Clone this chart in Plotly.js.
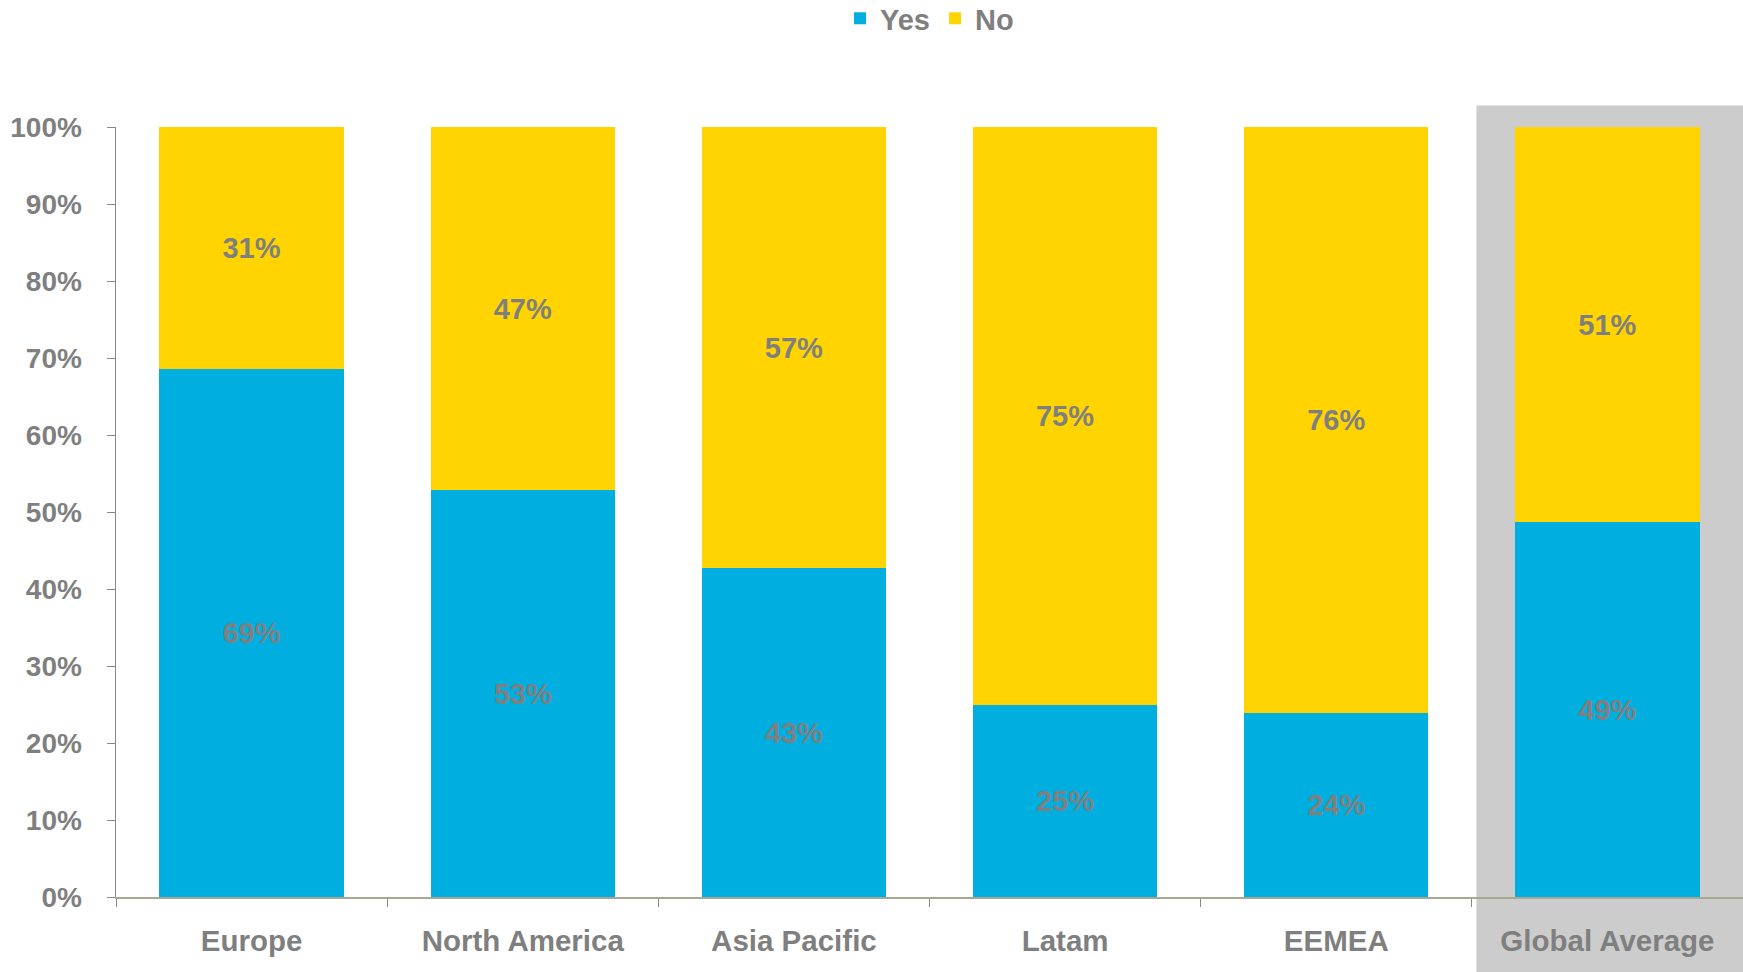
<!DOCTYPE html>
<html>
<head>
<meta charset="utf-8">
<script src="https://cdn.plot.ly/plotly-3.0.1.min.js"></script>
<style>html,body{margin:0;padding:0;background:#fff;}#chart{width:1743px;height:972px;}</style>
</head>
<body>
<div id="chart"></div>
<script>
const categories = ["Europe", "North America", "Asia Pacific", "Latam", "EEMEA", "Global Average"];
const yesValues = [68.6, 52.8, 42.7, 24.9, 23.9, 48.7];
const noValues = [31.4, 47.2, 57.3, 75.1, 76.1, 51.3];

const FONT = "Liberation Sans, Arial, sans-serif";
const GREY = "#7f7f7f";

const traces = [
  {
    type: "bar", name: "Yes", x: categories, y: yesValues,
    marker: {color: "#00AEE0"},
    texttemplate: "%{y:.0f}%", textposition: "inside", insidetextanchor: "middle",
    textfont: {family: FONT, size: 29, color: GREY, weight: "bold"},
    hoverinfo: "x+y"
  },
  {
    type: "bar", name: "No", x: categories, y: noValues,
    marker: {color: "#FFD400"},
    texttemplate: "%{y:.0f}%", textposition: "inside", insidetextanchor: "middle",
    textfont: {family: FONT, size: 29, color: GREY, weight: "bold"},
    hoverinfo: "x+y"
  }
];

const layout = {
  width: 1743, height: 972,
  margin: {l: 116, r: 0, t: 127, b: 75, autoexpand: false},
  barmode: "stack",
  bargap: 0.32,
  paper_bgcolor: "#ffffff",
  plot_bgcolor: "rgba(0,0,0,0)",
  font: {family: FONT, color: GREY, size: 28, weight: "bold"},
  showlegend: true,
  legend: {
    orientation: "h", x: 0.5, xanchor: "center", y: 1.141, yanchor: "middle",
    font: {family: FONT, size: 29, color: GREY, weight: "bold"},
    traceorder: "normal", itemwidth: 30
  },
  xaxis: {
    type: "category",
    range: [-0.5, 5.5],
    showline: true, linecolor: "#a8a890", linewidth: 1.5,
    ticks: "outside", tickson: "boundaries", ticklen: 8, tickcolor: "#888888",
    tickfont: {family: FONT, size: 29.5, color: GREY, weight: "bold"},
    ticklabelstandoff: 17,
    showgrid: false, zeroline: false
  },
  yaxis: {
    range: [0, 100], dtick: 10, ticksuffix: "%",
    showline: true, linecolor: "#888888", linewidth: 1.5,
    ticks: "outside", ticklen: 8, tickcolor: "#888888",
    tickfont: {family: FONT, size: 28, color: GREY, weight: "bold"},
    ticklabelstandoff: 19,
    showgrid: false, zeroline: false
  },
  shapes: [
    {
      type: "rect", layer: "below",
      xref: "x", x0: 4.517, x1: 5.5,
      yref: "paper", y0: -0.1, y1: 1.028,
      fillcolor: "#cccccc", line: {width: 0}
    }
  ]
};

Plotly.newPlot("chart", traces, layout, {displayModeBar: false, staticPlot: true});
</script>
</body>
</html>
